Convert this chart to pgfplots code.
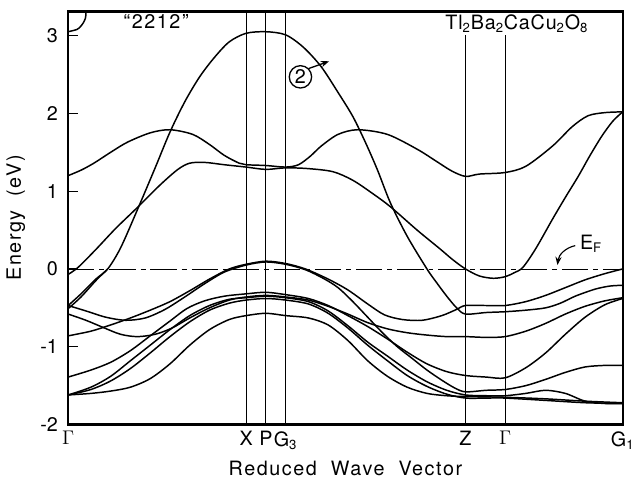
\documentclass[border=0pt,12pt]{standalone}
\usepackage{fontspec}
\setmainfont{TeX Gyre Heros}
\newfontfamily\spaced[LetterSpace=8]{TeX Gyre Heros}
\newfontfamily\lspaced[LetterSpace=4]{TeX Gyre Heros}
\usepackage{pgfplots}
\pgfplotsset{compat=1.18}
\usetikzlibrary{arrows.meta}

\begin{document}
\begin{tikzpicture}[band/.style={black, solid, line width=0.9pt, smooth, mark=none}]
\begin{axis}[
  scale only axis,
  width=337pt, height=251pt,
  xmin=67, xmax=628, ymin=-2, ymax=3.31,
  xtick={67,247,267,287,469,509,628},
  xticklabels={$\Gamma$,X,P,G\textsubscript{3},Z,$\Gamma$,G\textsubscript{1}},
  x tick style={draw=none},
  xmajorgrids, major grid style={black, line width=0.5pt},
  ytick={-2,-1,0,1,2,3},
  ytick pos=left, tick align=inside, major tick length=6pt,
  y tick style={black, line width=0.8pt},
  yticklabel style={xshift=-2pt},
  /pgf/number format/assume math mode=true,
  axis line style={line width=1.3pt},
  xlabel={\spaced Reduced\hspace{0.35em} Wave\hspace{0.35em} Vector},
  ylabel={\spaced Energy\hspace{0.35em} (eV)},
  xlabel style={yshift=1pt},
  ylabel shift=1pt,
]
% Fermi level
\addplot[black, sharp plot, line width=0.5pt, dash pattern=on 16pt off 3pt on 3pt off 3pt] coordinates {(67,0) (628,0)};

% arc at top left
\addplot[band] coordinates {(67,3.05) (76,3.08) (79.7,3.12) (82.6,3.17) (84.4,3.22) (85,3.28) (84.9,3.33)};

% band 2
\addplot[band] coordinates {(67,-0.47) (80,-0.32) (95,-0.13) (107,0.0) (120,0.27) (137,0.76) (155,1.3) (170,1.76) (185,2.15) (200,2.47) (215,2.72) (230,2.92) (247,3.03) (267,3.05) (287,3.01) (305,2.85) (323,2.6) (340,2.27) (355,1.96) (368,1.62) (380,1.27) (393,0.85) (410,0.42) (430,0.0) (440,-0.18) (450,-0.35) (460,-0.5) (469,-0.58) (490,-0.56) (509,-0.55) (530,-0.53) (550,-0.5) (565,-0.44) (580,-0.35) (600,-0.26) (615,-0.22) (628,-0.21)};
\addplot[band] coordinates {(67,-0.51) (80,-0.36) (95,-0.15) (107,0.0)};

% band B (crosses E_F)
\addplot[band] coordinates {(67,-0.07) (77,0.02) (95,0.25) (115,0.52) (137,0.79) (160,1.08) (178,1.28) (190,1.36) (205,1.37) (225,1.34) (247,1.31) (267,1.28) (287,1.3) (310,1.29) (335,1.25) (355,1.14) (375,0.97) (393,0.8) (420,0.5) (443,0.26) (456,0.12) (469,0.0) (483,-0.09) (497,-0.12) (509,-0.1) (518,-0.05) (527,0.02) (540,0.26) (557,0.64) (570,0.92) (583,1.19) (595,1.46) (607,1.71) (618,1.9) (628,2.02)};

% band C
\addplot[band] coordinates {(67,1.2) (80,1.27) (93,1.36) (110,1.5) (127,1.63) (150,1.75) (170,1.79) (193,1.73) (210,1.6) (225,1.46) (240,1.36) (247,1.34) (267,1.33) (287,1.31) (300,1.34) (312,1.45) (323,1.58) (340,1.73) (360,1.79) (390,1.73) (420,1.54) (440,1.38) (455,1.26) (469,1.19) (483,1.22) (509,1.24) (530,1.32) (557,1.58) (577,1.83) (593,1.97) (610,2.01) (628,2.02)};

% lower bands
\addplot[band] coordinates {(67,-0.47) (85,-0.54) (105,-0.62) (125,-0.66) (145,-0.63) (165,-0.52) (185,-0.36) (205,-0.19) (225,-0.04) (247,0.05) (267,0.09) (287,0.06) (307,-0.01) (325,-0.12) (340,-0.24) (355,-0.42) (370,-0.62) (385,-0.82) (400,-1.0) (415,-1.15) (430,-1.3) (445,-1.43) (458,-1.53) (469,-1.58) (490,-1.56) (509,-1.55) (530,-1.5) (550,-1.42) (570,-1.33) (590,-1.26) (610,-1.24) (628,-1.24)};
\addplot[band] coordinates {(67,-0.86) (90,-0.8) (110,-0.72) (130,-0.63) (150,-0.53) (170,-0.42) (190,-0.28) (210,-0.13) (230,0.0) (247,0.06) (267,0.1) (287,0.07) (307,0.0) (330,-0.13) (350,-0.27) (370,-0.45) (387,-0.59) (405,-0.65) (425,-0.66) (445,-0.6) (460,-0.52) (469,-0.47) (490,-0.47) (509,-0.47) (530,-0.42) (550,-0.34) (570,-0.24) (590,-0.14) (610,-0.06) (628,0.0)};
\addplot[band] coordinates {(67,-0.58) (85,-0.66) (102,-0.75) (120,-0.84) (137,-0.87) (155,-0.84) (172,-0.76) (190,-0.63) (210,-0.5) (230,-0.4) (247,-0.36) (267,-0.34) (287,-0.36) (310,-0.4) (330,-0.48) (350,-0.58) (370,-0.69) (390,-0.77) (410,-0.82) (430,-0.85) (450,-0.87) (469,-0.87) (490,-0.88) (509,-0.87) (530,-0.8) (550,-0.7) (570,-0.58) (590,-0.48) (610,-0.41) (628,-0.37)};
\addplot[band] coordinates {(67,-1.39) (90,-1.3) (110,-1.2) (130,-1.05) (150,-0.86) (170,-0.67) (187,-0.51) (205,-0.41) (225,-0.35) (247,-0.32) (267,-0.3) (287,-0.33) (310,-0.38) (330,-0.47) (350,-0.6) (370,-0.74) (390,-0.9) (410,-1.07) (430,-1.22) (450,-1.32) (469,-1.37) (490,-1.39) (509,-1.4) (530,-1.27) (550,-1.08) (570,-0.84) (590,-0.62) (610,-0.46) (628,-0.38)};
\addplot[band] coordinates {(67,-1.62) (90,-1.52) (110,-1.38) (130,-1.18) (150,-0.98) (170,-0.78) (190,-0.6) (210,-0.47) (230,-0.39) (247,-0.37) (267,-0.35) (287,-0.37) (310,-0.42) (330,-0.54) (350,-0.73) (370,-0.94) (390,-1.12) (410,-1.3) (430,-1.45) (450,-1.56) (469,-1.62) (490,-1.63) (509,-1.63) (530,-1.6) (550,-1.56) (570,-1.6) (590,-1.7) (610,-1.73) (628,-1.73)};
\addplot[band] coordinates {(67,-1.62) (90,-1.55) (110,-1.44) (130,-1.28) (150,-1.08) (170,-0.87) (190,-0.68) (210,-0.53) (230,-0.44) (247,-0.4) (267,-0.38) (287,-0.4) (310,-0.45) (330,-0.57) (350,-0.76) (370,-0.98) (390,-1.18) (410,-1.37) (430,-1.51) (450,-1.61) (469,-1.66) (490,-1.66) (509,-1.66) (550,-1.69) (590,-1.72) (628,-1.73)};
\addplot[band] coordinates {(67,-1.62) (90,-1.6) (110,-1.57) (130,-1.52) (150,-1.41) (170,-1.22) (190,-0.98) (210,-0.78) (230,-0.65) (247,-0.6) (267,-0.57) (287,-0.6) (310,-0.63) (330,-0.72) (350,-0.92) (370,-1.18) (390,-1.38) (410,-1.52) (430,-1.6) (450,-1.63) (469,-1.64) (509,-1.65) (550,-1.67) (590,-1.7) (628,-1.72)};

% annotations
\node at (axis cs:156,3.18) {{\spaced “2212”}};
\node[fill=white, inner sep=1.5pt] at (axis cs:521,3.15) {\lspaced Tl\textsubscript{2}Ba\textsubscript{2}CaCu\textsubscript{2}O\textsubscript{8}};
\node[circle, draw, line width=0.8pt, inner sep=1pt] (c2) at (axis cs:302,2.47) {2};
\draw[-{Stealth[length=5pt]}, line width=0.8pt] (c2.north east) -- (axis cs:331,2.67);
\node at (axis cs:596,0.32) {E\textsubscript{F}};
\draw[-{Stealth[length=5pt]}, line width=0.7pt] (axis cs:580,0.3) to[bend right=35] (axis cs:562,0.05);
\end{axis}
\path ([yshift=7pt]current axis.north);
\end{tikzpicture}
\end{document}
